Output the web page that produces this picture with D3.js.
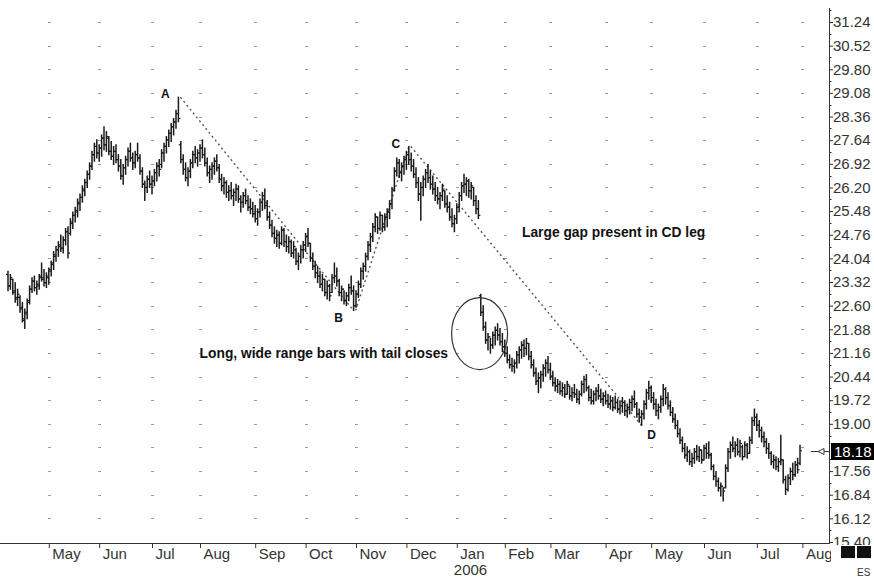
<!DOCTYPE html>
<html><head><meta charset="utf-8">
<script src="https://cdn.jsdelivr.net/npm/d3@7/dist/d3.min.js"></script>
<style>body{margin:0;background:#fff}svg{display:block}</style>
</head><body><svg id="c" width="874" height="578"></svg>
<script>
// ---- data (daily OHLC) ----
const firstDate = "2005-04-07";
const holidays = ["2005-05-30","2005-07-04","2005-09-05","2005-11-24","2005-12-26","2006-01-02","2006-01-16","2006-02-20","2006-04-14","2006-05-29","2006-07-04"];
const high = [
23.65,23.55,23.40,23.30,23.10,22.90,22.70,22.50,22.80,23.20,
23.45,23.50,23.35,23.55,23.90,23.70,23.60,23.75,23.95,24.25,
24.40,24.55,24.75,24.70,24.95,25.00,25.25,25.45,25.60,25.85,
26.00,26.25,26.45,26.70,26.95,27.30,27.55,27.65,27.50,27.80,
28.05,27.90,27.75,27.60,27.45,27.50,27.20,27.05,26.90,27.15,
27.40,27.55,27.25,27.30,27.55,27.20,26.80,26.40,26.55,26.70,
26.55,26.75,26.95,27.05,27.35,27.55,27.75,27.95,28.15,28.30,
28.55,28.95,27.60,27.20,26.95,26.80,27.05,27.30,27.45,27.35,
27.50,27.65,27.40,27.10,26.85,26.95,27.10,27.20,26.90,26.60,
26.50,26.40,26.25,26.35,26.15,26.30,26.25,25.95,26.05,26.15,
25.95,25.85,25.75,25.65,25.55,25.85,26.05,26.15,25.80,25.45,
25.20,25.00,24.90,24.85,25.00,24.95,24.75,24.70,24.60,24.55,
24.35,24.20,24.40,24.55,24.80,24.95,24.50,24.20,23.95,23.80,
23.65,23.55,23.40,23.35,23.25,23.55,23.90,23.75,23.40,23.20,
23.05,23.00,23.25,23.50,23.20,23.05,23.35,23.75,23.90,24.20,
24.55,24.80,25.10,25.40,25.30,25.45,25.35,25.40,25.55,25.80,
26.20,26.80,27.10,27.05,26.95,27.15,27.30,27.45,27.25,27.05,
26.80,26.50,26.35,26.55,26.75,26.90,26.70,26.55,26.35,26.20,
26.05,26.30,26.10,25.95,25.75,25.55,25.35,25.70,26.05,26.35,
26.60,26.50,26.45,26.35,26.20,25.95,25.80,22.95,22.60,22.10,
21.75,21.60,21.80,21.95,22.05,21.90,21.75,21.55,21.35,21.10,
21.00,20.95,21.20,21.35,21.50,21.55,21.60,21.45,21.20,20.95,
20.70,20.55,20.60,20.80,20.95,21.05,20.85,20.60,20.40,20.35,
20.30,20.25,20.20,20.30,20.15,20.10,20.20,20.05,20.00,20.30,
20.45,20.50,20.15,20.05,20.00,20.10,20.20,20.05,19.95,20.00,
19.90,19.85,19.80,19.85,19.75,19.70,19.80,19.70,19.60,19.75,
19.85,20.00,19.65,19.45,19.40,19.70,20.05,20.30,20.15,19.95,
19.75,19.60,19.85,20.20,20.10,19.95,19.70,19.50,19.30,19.10,
18.85,18.60,18.40,18.30,18.20,18.10,18.25,18.35,18.30,18.20,
18.35,18.40,18.45,18.10,17.75,17.55,17.35,17.20,17.05,17.75,
18.25,18.45,18.60,18.45,18.55,18.50,18.35,18.45,18.40,18.60,
19.20,19.45,19.30,19.10,18.90,18.75,18.55,18.40,18.15,18.05,
18.00,17.95,18.65,17.90,17.40,17.45,17.65,17.80,17.85,17.95,
18.35];
const low = [
23.05,23.10,22.95,22.70,22.60,22.40,22.10,21.90,22.20,22.65,
23.00,23.05,22.95,23.10,23.35,23.20,23.15,23.25,23.50,23.70,
23.95,24.10,24.25,24.20,24.45,24.05,24.75,24.95,25.15,25.30,
25.50,25.75,25.95,26.20,26.45,26.75,27.00,27.10,27.00,27.15,
27.35,27.30,27.20,27.05,26.90,26.95,26.70,26.45,26.30,26.60,
26.85,27.00,26.75,26.80,27.00,26.60,26.20,25.80,26.05,26.20,
26.00,26.25,26.40,26.55,26.80,27.00,27.25,27.45,27.60,27.80,
28.00,28.20,26.95,26.60,26.40,26.25,26.50,26.80,26.95,26.85,
27.00,27.10,26.85,26.55,26.35,26.45,26.60,26.70,26.35,26.10,
26.00,25.90,25.80,25.85,25.65,25.80,25.75,25.45,25.60,25.70,
25.50,25.40,25.30,25.15,25.05,25.30,25.50,25.55,25.20,24.95,
24.70,24.50,24.40,24.35,24.45,24.40,24.25,24.20,24.10,24.05,
23.85,23.70,23.90,24.05,24.25,24.40,23.95,23.70,23.45,23.30,
23.15,23.05,22.90,22.80,22.75,23.00,23.30,23.20,22.90,22.75,
22.65,22.60,22.75,22.95,22.45,22.55,22.85,23.15,23.40,23.65,
24.00,24.25,24.55,24.85,24.80,24.90,24.85,24.90,25.00,25.25,
25.55,26.10,26.55,26.50,26.40,26.60,26.75,26.90,26.70,26.50,
26.20,25.80,25.20,25.95,26.20,26.35,26.15,26.00,25.80,25.70,
25.55,25.80,25.60,25.45,25.20,25.00,24.85,25.10,25.45,25.80,
26.05,25.95,25.90,25.85,25.65,25.40,25.25,22.30,21.85,21.45,
21.25,21.15,21.30,21.40,21.55,21.40,21.20,21.05,20.85,20.70,
20.60,20.55,20.70,20.85,21.00,21.05,21.10,20.95,20.70,20.45,
20.20,19.95,20.10,20.30,20.45,20.55,20.35,20.15,20.00,19.95,
19.90,19.85,19.80,19.90,19.75,19.70,19.80,19.65,19.60,19.85,
19.95,20.00,19.70,19.60,19.60,19.70,19.75,19.65,19.55,19.60,
19.50,19.45,19.40,19.45,19.35,19.30,19.35,19.25,19.20,19.30,
19.40,19.50,19.20,19.05,18.95,19.15,19.45,19.75,19.65,19.45,
19.25,19.15,19.35,19.55,19.60,19.45,19.25,19.05,18.85,18.60,
18.40,18.15,17.95,17.85,17.75,17.70,17.80,17.90,17.85,17.80,
17.90,17.95,17.95,17.60,17.30,17.10,16.95,16.80,16.65,17.05,
17.55,17.95,18.15,18.00,18.05,18.00,17.90,18.00,17.95,18.10,
18.40,18.95,18.80,18.60,18.45,18.30,18.10,17.95,17.75,17.65,
17.60,17.55,17.75,17.20,16.85,16.95,17.15,17.30,17.40,17.50,
17.75];
const open = [
23.55,23.20,23.40,23.05,22.85,22.85,22.55,22.15,22.35,22.75,
23.10,23.35,23.15,23.20,23.45,23.45,23.30,23.45,23.65,23.85,
24.10,24.30,24.40,24.35,24.60,24.85,24.80,25.10,25.35,25.45,
25.70,25.90,26.10,26.35,26.60,26.85,27.20,27.45,27.25,27.40,
27.70,27.50,27.70,27.30,27.15,27.30,27.05,26.85,26.55,26.80,
27.05,27.30,27.10,26.95,27.20,27.10,26.70,26.30,26.20,26.45,
26.30,26.40,26.65,26.85,26.90,27.25,27.45,27.65,27.85,28.05,
28.20,28.45,27.50,27.05,26.75,26.50,26.70,26.95,27.20,27.10,
27.25,27.40,27.20,26.95,26.65,26.75,26.85,27.00,26.80,26.45,
26.25,26.35,26.05,26.10,25.95,26.05,26.15,25.85,25.75,25.95,
25.80,25.60,25.55,25.40,25.25,25.45,25.75,25.95,25.65,25.30,
25.05,24.80,24.65,24.75,24.50,24.90,24.55,24.40,24.55,24.20,
24.30,23.95,24.10,24.30,24.45,24.70,24.50,24.05,23.80,23.60,
23.50,23.25,23.40,23.00,23.20,23.00,23.45,23.50,23.35,23.00,
23.10,22.75,22.90,23.15,23.05,22.60,22.95,23.25,23.65,23.80,
24.10,24.45,24.70,25.00,25.30,24.95,25.35,25.00,25.30,25.45,
25.70,26.15,26.70,26.95,26.65,26.85,27.05,27.20,27.05,26.85,
26.60,26.35,26.00,26.20,26.45,26.65,26.50,26.30,26.15,25.95,
25.85,25.95,26.10,25.70,25.60,25.30,25.10,25.25,25.60,25.95,
26.25,26.30,26.40,26.10,26.20,25.80,25.55,22.90,22.40,21.95,
21.55,21.65,21.40,21.70,21.85,21.70,21.50,21.35,21.15,20.95,
20.80,20.75,20.85,21.10,21.25,21.40,21.30,21.45,21.05,20.80,
20.55,20.30,20.40,20.50,20.70,20.85,20.65,20.45,20.25,20.15,
20.20,20.00,20.10,19.90,20.15,19.85,19.95,19.90,19.75,19.90,
20.20,20.35,20.10,19.80,19.70,19.90,20.00,19.85,19.75,19.85,
19.70,19.60,19.70,19.50,19.65,19.45,19.55,19.65,19.40,19.50,
19.65,19.75,19.60,19.30,19.20,19.30,19.60,19.95,20.10,19.80,
19.60,19.40,19.50,19.75,20.05,19.80,19.55,19.35,19.15,18.95,
18.70,18.50,18.25,18.05,18.15,17.85,17.95,18.15,18.00,18.20,
17.90,18.25,18.10,18.05,17.70,17.40,17.25,17.05,17.10,17.05,
17.65,18.15,18.35,18.25,18.35,18.15,18.30,18.00,18.35,18.10,
18.50,19.10,19.20,18.95,18.80,18.60,18.45,18.25,18.10,17.85,
17.90,17.70,17.85,17.90,17.30,17.00,17.35,17.55,17.45,17.75,
17.80];
const close = [
23.20,23.45,23.00,22.80,22.95,22.50,22.20,22.40,22.70,23.10,
23.35,23.15,23.25,23.50,23.40,23.30,23.50,23.70,23.90,24.15,
24.30,24.45,24.35,24.60,24.85,24.20,25.15,25.35,25.50,25.75,
25.90,26.15,26.35,26.60,26.85,27.20,27.45,27.25,27.40,27.70,
27.50,27.75,27.30,27.15,27.30,27.05,26.85,26.55,26.80,27.05,
27.30,27.10,26.95,27.20,27.10,26.70,26.30,26.20,26.45,26.30,
26.40,26.65,26.85,26.75,27.25,27.45,27.65,27.85,28.05,28.20,
28.45,28.30,27.05,26.75,26.50,26.70,26.95,27.20,27.10,27.25,
27.40,27.20,26.95,26.65,26.75,26.85,27.00,26.80,26.45,26.25,
26.35,26.05,26.10,25.95,26.05,26.15,25.85,25.75,25.95,25.80,
25.60,25.55,25.40,25.25,25.45,25.75,25.95,25.65,25.30,25.05,
24.80,24.65,24.75,24.50,24.90,24.55,24.40,24.55,24.20,24.40,
23.95,24.10,24.30,24.45,24.70,24.50,24.05,23.80,23.60,23.50,
23.25,23.40,23.00,23.20,22.90,23.45,23.50,23.35,23.00,23.10,
22.75,22.90,23.15,23.05,22.60,22.95,23.25,23.65,23.80,24.10,
24.45,24.70,25.00,25.30,24.95,25.35,25.00,25.30,25.45,25.70,
26.10,26.70,26.95,26.65,26.85,27.05,27.20,27.05,26.85,26.60,
26.35,26.00,26.20,26.45,26.65,26.50,26.30,26.15,25.95,25.85,
25.95,26.15,25.70,25.60,25.30,25.10,25.25,25.60,25.95,26.25,
26.30,26.40,26.10,26.25,25.80,25.55,25.35,22.40,21.95,21.55,
21.65,21.40,21.70,21.85,21.70,21.50,21.35,21.15,20.95,20.80,
20.75,20.85,21.10,21.25,21.40,21.30,21.45,21.05,20.80,20.55,
20.30,20.40,20.50,20.70,20.85,20.65,20.45,20.25,20.15,20.20,
20.00,20.10,19.90,20.20,19.85,19.95,19.90,19.75,19.90,20.20,
20.35,20.10,19.80,19.70,19.90,20.00,19.85,19.75,19.85,19.70,
19.60,19.70,19.50,19.65,19.45,19.55,19.65,19.40,19.50,19.65,
19.75,19.60,19.30,19.20,19.30,19.60,19.95,20.10,19.80,19.60,
19.40,19.50,19.75,20.05,19.80,19.55,19.35,19.15,18.95,18.70,
18.50,18.25,18.05,18.15,17.85,17.95,18.15,18.00,18.20,17.90,
18.25,18.10,18.05,17.70,17.40,17.25,17.05,17.10,16.95,17.65,
18.15,18.35,18.25,18.35,18.15,18.40,18.00,18.35,18.10,18.50,
19.10,19.20,18.95,18.80,18.60,18.45,18.25,18.10,17.85,17.90,
17.70,17.85,17.90,17.30,17.00,17.35,17.55,17.45,17.75,17.60,
18.18];
const yTicks = [31.24,30.52,29.80,29.08,28.36,27.64,26.92,26.20,25.48,24.76,24.04,23.32,22.60,21.88,21.16,20.44,19.72,19.00,17.56,16.84,16.12,15.40];
const gridLevels = [31.24,30.52,29.80,29.08,28.36,27.64,26.92,26.20,25.48,24.76,24.04,23.32,22.60,21.88,21.16,20.44,19.72,19.00,18.28,17.56,16.84,16.12];
const monthLabels = ["May","Jun","Jul","Aug","Sep","Oct","Nov","Dec","Jan","Feb","Mar","Apr","May","Jun","Jul","Aug"];
const lastPrice = 18.18;
// annotation anchors: [label, bar index, price]
const pivots = [["A",71,28.95],["B",144,22.45],["C",167,27.45],["D",264,18.95]];
const noteGap = "Large gap present in CD leg";
const noteBars = "Long, wide range bars with tail closes";
const circleBars = [196.5, 21.75]; // centre: bar index, price

// ---- drawing ----
const svg = d3.select("#c");
const N = high.length;
const fmt = d3.timeFormat("%Y-%m-%d");
const dates = [];
let d = d3.timeParse("%Y-%m-%d")(firstDate);
while (dates.length < N) {
  const wd = d.getDay();
  if (wd !== 0 && wd !== 6 && !holidays.includes(fmt(d))) dates.push(new Date(d));
  d = d3.timeDay.offset(d, 1);
}
const x = d3.scaleLinear().domain([0, N - 1]).range([8, 800]);
const y = d3.scaleLinear().domain([15.40, 31.24]).range([542, 22]);
const monthIdx = [];
for (let i = 1; i < N; i++) if (dates[i].getMonth() !== dates[i - 1].getMonth()) monthIdx.push(i);
monthIdx.push(N);

const font = "'Liberation Sans', Arial, sans-serif";

// grid marks
const g = svg.append("g");
monthIdx.forEach(mi => gridLevels.forEach(v => {
  g.append("rect").attr("x", Math.round(x(mi)) - 1).attr("y", Math.round(y(v)))
    .attr("width", 3).attr("height", 1).attr("fill", "#9a9a9a");
}));

// annotation lines (dotted)
const P = pivots.map(p => [x(p[1]), y(p[2])]);
const dl = svg.append("g").attr("stroke", "#555").attr("stroke-width", 1.4)
  .attr("stroke-dasharray", "2,3").attr("fill", "none");
[[0,1],[1,2],[2,3]].forEach(([a,b]) => {
  dl.append("line").attr("x1", P[a][0] + 2).attr("y1", P[a][1]).attr("x2", P[b][0]).attr("y2", P[b][1]);
});

// bars
const bars = svg.append("g").attr("stroke", "#1a1a1a").attr("stroke-width", 1.5);
for (let i = 0; i < N; i++) {
  const cx = x(i);
  bars.append("line").attr("x1", cx).attr("x2", cx).attr("y1", y(high[i]) - 0.5).attr("y2", y(low[i]) + 0.5);
  bars.append("line").attr("x1", cx - 2).attr("x2", cx).attr("y1", y(open[i])).attr("y2", y(open[i])).attr("stroke-width", 1.2);
  bars.append("line").attr("x1", cx).attr("x2", cx + 2).attr("y1", y(close[i])).attr("y2", y(close[i])).attr("stroke-width", 1.2);
}

// ellipse around the gap bars
svg.append("ellipse").attr("cx", x(circleBars[0])).attr("cy", y(circleBars[1]))
  .attr("rx", 28).attr("ry", 36).attr("fill", "none").attr("stroke", "#333").attr("stroke-width", 1.2);

// pivot labels
const offs = {A:[-13,1], B:[-15,11], C:[-13,2], D:[10,14]};
pivots.forEach(p => {
  const o = offs[p[0]];
  svg.append("text").attr("x", x(p[1]) + o[0]).attr("y", y(p[2]) + o[1])
    .attr("font-family", font).attr("font-weight", "bold").attr("font-size", 12)
    .attr("fill", "#111").attr("text-anchor", "middle").text(p[0]);
});

// notes
svg.append("text").attr("x", 522).attr("y", 237).attr("font-family", font).attr("font-weight", "bold")
  .attr("font-size", 13.8).attr("fill", "#111").text(noteGap);
svg.append("text").attr("x", 448).attr("y", 358).attr("text-anchor", "end").attr("font-family", font).attr("font-weight", "bold")
  .attr("font-size", 13.8).attr("fill", "#111").text(noteBars);

// y axis
const yAxis = d3.axisRight(y).tickValues(yTicks).tickFormat(d3.format(".2f")).tickSize(4).tickSizeOuter(0);
const ya = svg.append("g").attr("transform", "translate(829,0)").call(yAxis);
ya.select(".domain").remove();
ya.selectAll("line").attr("stroke", "#333");
ya.selectAll("text").attr("x", 4).attr("font-family", font).attr("font-size", 15).attr("fill", "#333");
svg.append("line").attr("x1", 829.5).attr("x2", 829.5).attr("y1", 8).attr("y2", 543).attr("stroke", "#333");
// minor ticks
yTicks.concat([18.28]).forEach(v => {
  const yy = Math.round(y(v + 0.36)) + 0.5;
  if (yy > 10) svg.append("line").attr("x1", 829).attr("x2", 831.5).attr("y1", yy).attr("y2", yy).attr("stroke", "#333");
});

// x axis
const xAxis = d3.axisBottom(x).tickValues(monthIdx).tickFormat((v, i) => monthLabels[i]).tickSize(5).tickSizeOuter(0);
const xa = svg.append("g").attr("transform", "translate(0,543)").call(xAxis);
xa.select(".domain").remove();
xa.selectAll("line").attr("stroke", "#333");
xa.selectAll("text").attr("text-anchor", "start").attr("x", 3).attr("y", 5).attr("dy", "0.71em")
  .attr("font-family", font).attr("font-size", 15).attr("fill", "#333");
svg.append("line").attr("x1", 0).attr("x2", 830).attr("y1", 543.5).attr("y2", 543.5).attr("stroke", "#333");
const jan = monthIdx[monthLabels.indexOf("Jan")];
svg.append("text").attr("x", x(jan) - 3).attr("y", 575).attr("font-family", font).attr("font-size", 15)
  .attr("fill", "#333").text("2006");

// bottom-right corner
svg.append("rect").attr("x", 831).attr("y", 545).attr("width", 43).attr("height", 33).attr("fill", "#fff");
svg.append("rect").attr("x", 841).attr("y", 546).attr("width", 14).attr("height", 12).attr("fill", "#111");
svg.append("rect").attr("x", 857).attr("y", 546).attr("width", 14).attr("height", 12).attr("fill", "#111");
svg.append("text").attr("x", 857).attr("y", 576).attr("font-family", font).attr("font-size", 10).attr("fill", "#333").text("ES");

// last price marker
const ly = Math.round(y(lastPrice)) + 0.5;
svg.append("rect").attr("x", 831).attr("y", ly - 8.5).attr("width", 43).attr("height", 17).attr("fill", "#000");
svg.append("text").attr("x", 834).attr("y", ly + 5.5).attr("font-family", font).attr("font-size", 15)
  .attr("fill", "#fff").text(d3.format(".2f")(lastPrice));
svg.append("line").attr("x1", 811).attr("x2", 829).attr("y1", ly).attr("y2", ly).attr("stroke", "#333");
svg.append("path").attr("d", `M818,${ly} L824,${ly-3} L824,${ly+3} Z`).attr("fill", "#fff").attr("stroke", "#333");
</script></body></html>
